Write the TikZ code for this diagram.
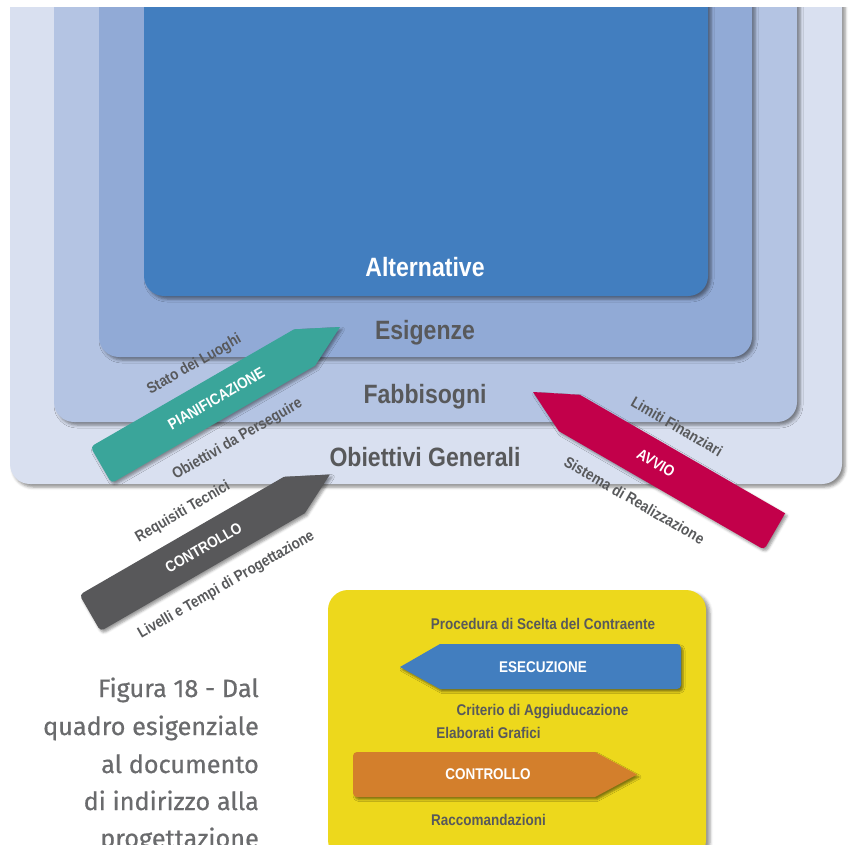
\documentclass[tikz,border=0pt]{standalone}
\usepackage{fontspec}
\usetikzlibrary{shadows.blur}
\newfontfamily\condfont[FakeStretch=0.87]{Liberation Sans}
\newfontfamily\capfont[FakeStretch=1.01,FakeBold=0.6]{Fira Sans}

\definecolor{layerA}{HTML}{D9E0F0}
\definecolor{layerB}{HTML}{B4C4E3}
\definecolor{layerC}{HTML}{91AAD6}
\definecolor{layerD}{HTML}{427EBF}
\definecolor{labgray}{HTML}{58595B}
\definecolor{capgray}{HTML}{6A6B6D}
\definecolor{teal}{HTML}{3AA59A}
\definecolor{crimson}{HTML}{C2004A}
\definecolor{slate}{HTML}{58585A}
\definecolor{boxyellow}{HTML}{EDD81C}
\definecolor{orangearrow}{HTML}{D37F2C}
\definecolor{bluearrow}{HTML}{427EBF}

\begin{document}
\begin{tikzpicture}[x=1pt,y=-1pt,
  softshadow/.style={blur shadow={shadow xshift=3pt,shadow yshift=-3pt,
      shadow blur radius=3pt,shadow opacity=45}},
  arrowshadow/.style={blur shadow={shadow xshift=2pt,shadow yshift=-2.5pt,
      shadow blur radius=2.5pt,shadow opacity=40}},
  bigtag/.style={font=\condfont\bfseries\fontsize{26.5}{30}\selectfont,
      text=labgray, inner sep=0pt, anchor=base},
  smalltag/.style={font=\condfont\bfseries\fontsize{15.5}{18}\selectfont,
      text=labgray, inner sep=0pt},
  arrowtag/.style={font=\condfont\bfseries\fontsize{15.5}{18}\selectfont,
      text=white, inner sep=0pt},
  captext/.style={font=\capfont\fontsize{25}{28}\selectfont,
      text=capgray, inner sep=0pt, anchor=base east},
]
\useasboundingbox (0,0) rectangle (856,845);
\clip (0,0) rectangle (856,845);

% nested layers of the needs framework
\begin{scope}
  \clip (0,8) rectangle (856,845);
  \fill[layerA, rounded corners=20pt, softshadow] (10,-40) rectangle (842,484);
  \fill[layerB, rounded corners=20pt, softshadow] (54,-40) rectangle (797,422);
  \fill[layerC, rounded corners=20pt, softshadow] (99,-40) rectangle (752,357);
  \fill[layerD, rounded corners=20pt, softshadow] (144,-40) rectangle (708,296);
\end{scope}

\node[bigtag, text=white] (alt) at (425,276) {Alternative};
\node[bigtag] (esi) at (425,339) {Esigenze};
\node[bigtag] (fab) at (425,403) {Fabbisogni};
\node[bigtag] (obi) at (425,466) {Obiettivi Generali};

% planning arrow
\begin{scope}[shift={(101,465)}, rotate=30, transform shape]
  \fill[teal, arrowshadow] (276,0) -- (235,21) [rounded corners=4pt] -- (0,21)
      -- (0,-21) [sharp corners] -- (235,-21) -- cycle;
  \node[arrowtag] (pian) at (133,0) {PIANIFICAZIONE};
  \node[smalltag] (stato) at (131,-40) {Stato dei Luoghi};
  \node[smalltag] (perseg) at (131,46) {Obiettivi da Perseguire};
\end{scope}

% design control arrow
\begin{scope}[shift={(90,613)}, rotate=30, transform shape]
  \fill[slate, arrowshadow] (277,0) -- (236,21) [rounded corners=4pt] -- (0,21)
      -- (0,-21) [sharp corners] -- (236,-21) -- cycle;
  \node[arrowtag] (ctrlA) at (131,0) {CONTROLLO};
  \node[smalltag] (req) at (131,-41) {Requisiti Tecnici};
  \node[smalltag] (liv) at (132,44) {Livelli e Tempi di Progettazione};
\end{scope}

% start-up arrow
\begin{scope}[shift={(533,392)}, rotate=-30, transform shape]
  \fill[crimson, arrowshadow] (0,0) -- (42,-21) -- (279,-21) [rounded corners=4pt]
      -- (279,21) [sharp corners] -- (42,21) -- cycle;
  \node[arrowtag] (avvio) at (142,0) {AVVIO};
  \node[smalltag] (lim) at (142,-42) {Limiti Finanziari};
  \node[smalltag] (sis) at (142,43) {Sistema di Realizzazione};
\end{scope}

% execution panel
\fill[boxyellow, rounded corners=20pt, blur shadow={shadow xshift=4pt,
    shadow yshift=-3pt, shadow blur radius=3pt, shadow opacity=40}]
    (328,590) rectangle (706,860);

\fill[bluearrow, blur shadow={shadow xshift=2pt,shadow yshift=-2.5pt,
    shadow blur radius=2pt,shadow opacity=45}]
    (400,667) -- (440,644) [rounded corners=4pt] -- (681,644) -- (681,689)
    [sharp corners] -- (440,689) -- cycle;
\node[arrowtag] (esec) at (543,667) {ESECUZIONE};

\fill[orangearrow, blur shadow={shadow xshift=2pt,shadow yshift=-2.5pt,
    shadow blur radius=2pt,shadow opacity=45}]
    (637,774.5) -- (595,797) [rounded corners=4pt] -- (353,797) -- (353,752)
    [sharp corners] -- (595,752) -- cycle;
\node[arrowtag] (ctrlB) at (488,774.5) {CONTROLLO};

\node[smalltag, anchor=base] (proc) at (543,629) {Procedura di Scelta del Contraente};
\node[smalltag, anchor=base] (crit) at (542.5,715) {Criterio di Aggiuducazione};
\node[smalltag, anchor=base] (elab) at (488.5,738) {Elaborati Grafici};
\node[smalltag, anchor=base] (racc) at (488.5,825) {Raccomandazioni};

% caption
\node[captext] (cap1) at (259,697) {Figura 18 - Dal};
\node[captext] (cap2) at (259,735) {quadro esigenziale};
\node[captext] (cap3) at (259,773) {al documento};
\node[captext] (cap4) at (259,810) {di indirizzo alla};
\node[captext] (cap5) at (259,847) {progettazione};
\end{tikzpicture}
\end{document}
